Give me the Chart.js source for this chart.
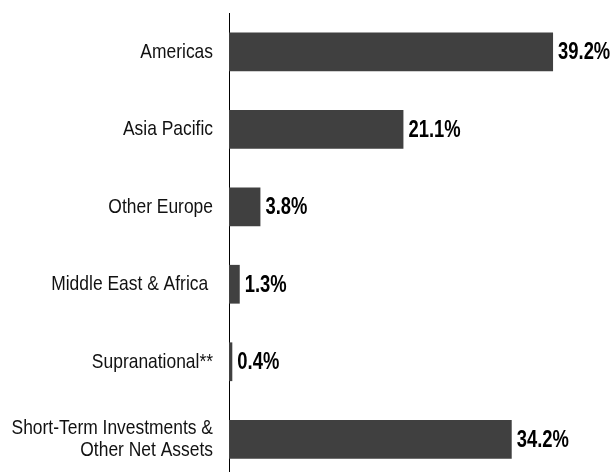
<!DOCTYPE html>
<html>
<head>
<meta charset="utf-8">
<script src="https://cdn.jsdelivr.net/npm/chart.js@4.4.1/dist/chart.umd.min.js"></script>
<style>
  html, body { margin: 0; padding: 0; background: #fff; overflow: hidden; }
  #wrap { position: relative; width: 613px; height: 478px; }
</style>
</head>
<body>
<div id="wrap"><canvas id="c"></canvas></div>
<script>
const categories = [
  "Americas",
  "Asia Pacific",
  "Other Europe",
  "Middle East & Africa ",
  "Supranational**",
  ["Short-Term Investments &", "Other Net Assets"]
];
const values = [39.2, 21.1, 3.8, 1.3, 0.4, 34.2];
const valueLabels = ["39.2%", "21.1%", "3.8%", "1.3%", "0.4%", "34.2%"];

const FONT = "'Liberation Sans', Arial, sans-serif";
const SQUEEZE_CAT = 0.83;
const SQUEEZE_VAL = 0.8;

const labelPlugin = {
  id: 'narrowLabels',
  afterDatasetsDraw(chart) {
    const ctx = chart.ctx;
    const yScale = chart.scales.y;
    const meta = chart.getDatasetMeta(0);
    ctx.save();
    ctx.font = "21px " + FONT;
    ctx.fillStyle = "#111";
    ctx.textAlign = "right";
    ctx.textBaseline = "middle";
    const lh = 22.4;
    categories.forEach((lab, i) => {
      const y = yScale.getPixelForValue(i);
      const lines = Array.isArray(lab) ? lab : [lab];
      const y0 = y - (lines.length - 1) * lh / 2;
      lines.forEach((ln, k) => {
        ctx.save();
        ctx.translate(chart.chartArea.left - 16, y0 + k * lh);
        ctx.scale(SQUEEZE_CAT, 1);
        ctx.fillText(ln, 0, 0);
        ctx.restore();
      });
    });
    ctx.font = "bold 23px " + FONT;
    ctx.fillStyle = "#000";
    ctx.textAlign = "left";
    meta.data.forEach((bar, i) => {
      ctx.save();
      ctx.translate(bar.x + 5, bar.y + 1);
      ctx.scale(SQUEEZE_VAL, 1);
      ctx.fillText(valueLabels[i], 0, 0);
      ctx.restore();
    });
    ctx.restore();
  }
};

new Chart(document.getElementById('c'), {
  type: 'bar',
  data: {
    labels: categories,
    datasets: [{
      data: values,
      backgroundColor: '#404040',
      borderWidth: 0,
      categoryPercentage: 1.0,
      barPercentage: 0.5
    }]
  },
  options: {
    indexAxis: 'y',
    responsive: true,
    maintainAspectRatio: false,
    animation: false,
    layout: { padding: { top: 13, bottom: 0, left: 0, right: 12 } },
    plugins: { legend: { display: false }, tooltip: { enabled: false } },
    scales: {
      x: {
        display: false,
        min: 0,
        max: 45
      },
      y: {
        afterFit(s) { s.width = 229; s.paddingTop = 0; s.paddingBottom = 0; },
        grid: { display: true, drawOnChartArea: false, drawTicks: false },
        border: { display: true, color: '#000', width: 1 },
        ticks: { display: false }
      }
    }
  },
  plugins: [labelPlugin]
});
</script>
</body>
</html>
